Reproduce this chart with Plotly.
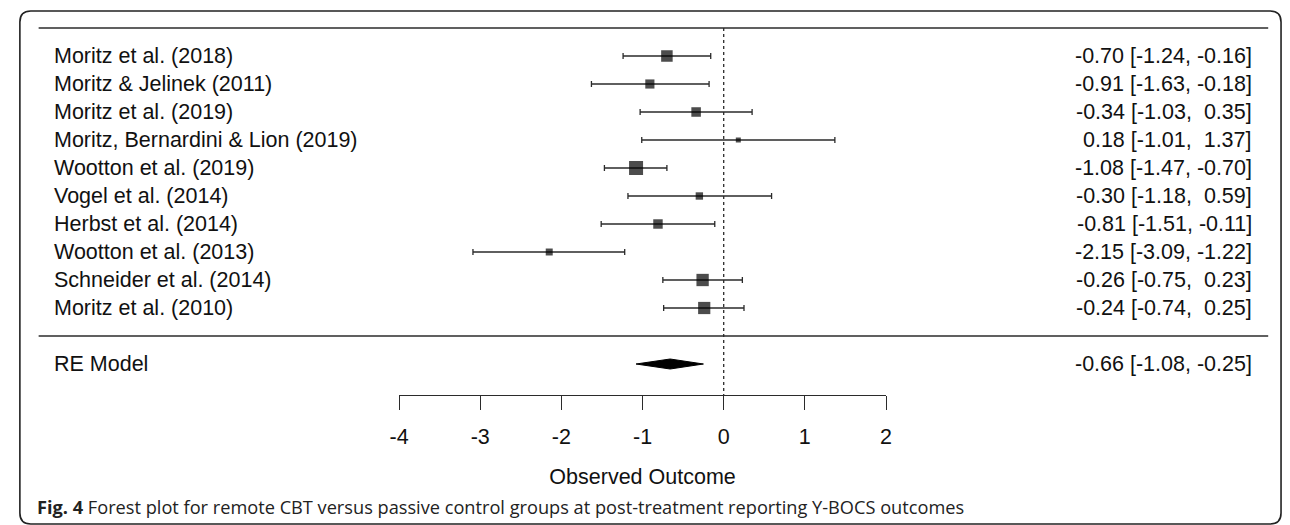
import plotly.graph_objects as go

# ---------------- data ----------------
studies = [
    "Moritz et al. (2018)",
    "Moritz & Jelinek (2011)",
    "Moritz et al. (2019)",
    "Moritz, Bernardini & Lion (2019)",
    "Wootton et al. (2019)",
    "Vogel et al. (2014)",
    "Herbst et al. (2014)",
    "Wootton et al. (2013)",
    "Schneider et al. (2014)",
    "Moritz et al. (2010)",
]
estimates = [-0.70, -0.91, -0.34, 0.18, -1.08, -0.30, -0.81, -2.15, -0.26, -0.24]
ci_lower = [-1.24, -1.63, -1.03, -1.01, -1.47, -1.18, -1.51, -3.09, -0.75, -0.74]
ci_upper = [-0.16, -0.18, 0.35, 1.37, -0.70, 0.59, -0.11, -1.22, 0.23, 0.25]
weights = [11.8, 9.4, 9.8, 5.2, 14.3, 7.6, 9.7, 7.2, 12.6, 12.5]  # estimated %

re_label = "RE Model"
re_est, re_lower, re_upper = -0.66, -1.08, -0.25

tick_values = [-4, -3, -2, -1, 0, 1, 2]
x_title = "Observed Outcome"
caption_bold = "Fig. 4"
caption_text = "Forest plot for remote CBT versus passive control groups at post-treatment reporting Y-BOCS outcomes"

# ---------------- layout constants ----------------
W, H = 1290, 525
FONT = "Liberation Sans, Arial, Helvetica, sans-serif"
FS = 21.5
LINE_C = "#2b2b2b"
TEXT_C = "#111111"

k = len(studies)
rows = list(range(k, 0, -1))          # metafor-style rows: k..1
row_re = -1
row_sep = 0
row_top = k + 1

ROW_PX0 = 56      # pixel of row k
ROW_H = 28        # px per row unit


def px_to_row(px):
    return k - (px - ROW_PX0) / ROW_H


y_range = [px_to_row(H), px_to_row(0)]
axis_px = 395
axis_row = px_to_row(axis_px)
x_dom = [394 / W, 887 / W]


def fx(px):
    return px / W


def fy(px):
    return 1 - px / H


def fmt(v):
    s = f"{v:.2f}"
    return s if v < 0 else "\u00a0" + s


fig = go.Figure()

# reference line at 0
fig.add_trace(go.Scatter(
    x=[0, 0], y=[row_top, axis_row], mode="lines",
    line=dict(color=LINE_C, width=1.3, dash="dot"),
    hoverinfo="skip", showlegend=False, cliponaxis=False))

# confidence intervals
fig.add_trace(go.Scatter(
    x=estimates, y=rows, mode="markers",
    marker=dict(symbol="square", size=1, color="rgba(0,0,0,0)"),
    error_x=dict(type="data", symmetric=False,
                 array=[u - e for u, e in zip(ci_upper, estimates)],
                 arrayminus=[e - l for e, l in zip(estimates, ci_lower)],
                 width=3, thickness=1.3, color=LINE_C),
    hoverinfo="skip", showlegend=False, cliponaxis=False))

# study squares (size by weight)
wmin, wmax = min(weights), max(weights)
sizes = [5 + 9 * (w - wmin) / (wmax - wmin) for w in weights]
fig.add_trace(go.Scatter(
    x=estimates, y=rows, mode="markers",
    marker=dict(symbol="square", size=sizes, color="black", line=dict(width=0)),
    hoverinfo="skip", showlegend=False, cliponaxis=False))

# summary diamond
dh = 5 / ROW_H
fig.add_trace(go.Scatter(
    x=[re_lower, re_est, re_upper, re_est, re_lower],
    y=[row_re, row_re + dh, row_re, row_re - dh, row_re],
    mode="lines", fill="toself", fillcolor="black",
    line=dict(color="black", width=1),
    hoverinfo="skip", showlegend=False, cliponaxis=False))

annotations = []
for name, r, e, lo, hi in zip(studies, rows, estimates, ci_lower, ci_upper):
    annotations.append(dict(x=fx(43), xref="paper", y=r, yref="y", text=name,
                            showarrow=False, xanchor="left", yanchor="middle",
                            font=dict(family=FONT, size=FS, color=TEXT_C)))
    annotations.append(dict(x=fx(1260), xref="paper", y=r, yref="y",
                            text=f"{fmt(e)} [{lo:.2f}, {fmt(hi)}]",
                            showarrow=False, xanchor="right", yanchor="middle",
                            font=dict(family=FONT, size=FS, color=TEXT_C)))

annotations.append(dict(x=fx(43), xref="paper", y=row_re, yref="y", text=re_label,
                        showarrow=False, xanchor="left", yanchor="middle",
                        font=dict(family=FONT, size=FS, color=TEXT_C)))
annotations.append(dict(x=fx(1260), xref="paper", y=row_re, yref="y",
                        text=f"{fmt(re_est)} [{re_lower:.2f}, {fmt(re_upper)}]",
                        showarrow=False, xanchor="right", yanchor="middle",
                        font=dict(family=FONT, size=FS, color=TEXT_C)))

annotations.append(dict(x=fx(25), xref="paper", y=fy(507), yref="paper",
                        text=f"<b>{caption_bold}</b> {caption_text}",
                        showarrow=False, xanchor="left", yanchor="middle",
                        font=dict(family="Open Sans, Noto Sans, sans-serif", size=18.2, color="#222222")))

# rounded frame
x0, y0, x1, y1, rr = 10, 11, 1287, 524, 11
path = (f"M {fx(x0 + rr)},{fy(y0)} L {fx(x1 - rr)},{fy(y0)} "
        f"Q {fx(x1)},{fy(y0)} {fx(x1)},{fy(y0 + rr)} "
        f"L {fx(x1)},{fy(y1 - rr)} Q {fx(x1)},{fy(y1)} {fx(x1 - rr)},{fy(y1)} "
        f"L {fx(x0 + rr)},{fy(y1)} Q {fx(x0)},{fy(y1)} {fx(x0)},{fy(y1 - rr)} "
        f"L {fx(x0)},{fy(y0 + rr)} Q {fx(x0)},{fy(y0)} {fx(x0 + rr)},{fy(y0)} Z")

shapes = [
    dict(type="path", path=path, xref="paper", yref="paper",
         line=dict(color="#222222", width=1.6)),
    dict(type="line", xref="paper", yref="y", x0=fx(29), x1=fx(1274),
         y0=row_top, y1=row_top, line=dict(color=LINE_C, width=1.6)),
    dict(type="line", xref="paper", yref="y", x0=fx(29), x1=fx(1274),
         y0=row_sep, y1=row_sep, line=dict(color=LINE_C, width=1.6)),
]

fig.update_layout(
    width=W, height=H,
    margin=dict(l=0, r=0, t=0, b=0),
    paper_bgcolor="white", plot_bgcolor="rgba(0,0,0,0)",
    showlegend=False,
    annotations=annotations, shapes=shapes,
    xaxis=dict(domain=x_dom, range=[tick_values[0], tick_values[-1]],
               tickvals=tick_values, ticktext=[str(t) for t in tick_values],
               ticks="outside", ticklen=14, tickwidth=1.3, tickcolor=LINE_C,
               ticklabelstandoff=8,
               showline=True, linecolor=LINE_C, linewidth=1.3,
               showgrid=False, zeroline=False,
               anchor="free", position=fy(axis_px),
               tickfont=dict(family=FONT, size=FS, color=TEXT_C),
               title=dict(text=x_title, standoff=20,
                          font=dict(family=FONT, size=FS, color=TEXT_C)),
               fixedrange=True),
    yaxis=dict(domain=[0, 1], range=y_range, visible=False, fixedrange=True),
)

fig.write_html(
    "out.html",
    config={"displayModeBar": False},
    post_script="document.body.style.margin='0';document.body.style.overflow='hidden';",
)
